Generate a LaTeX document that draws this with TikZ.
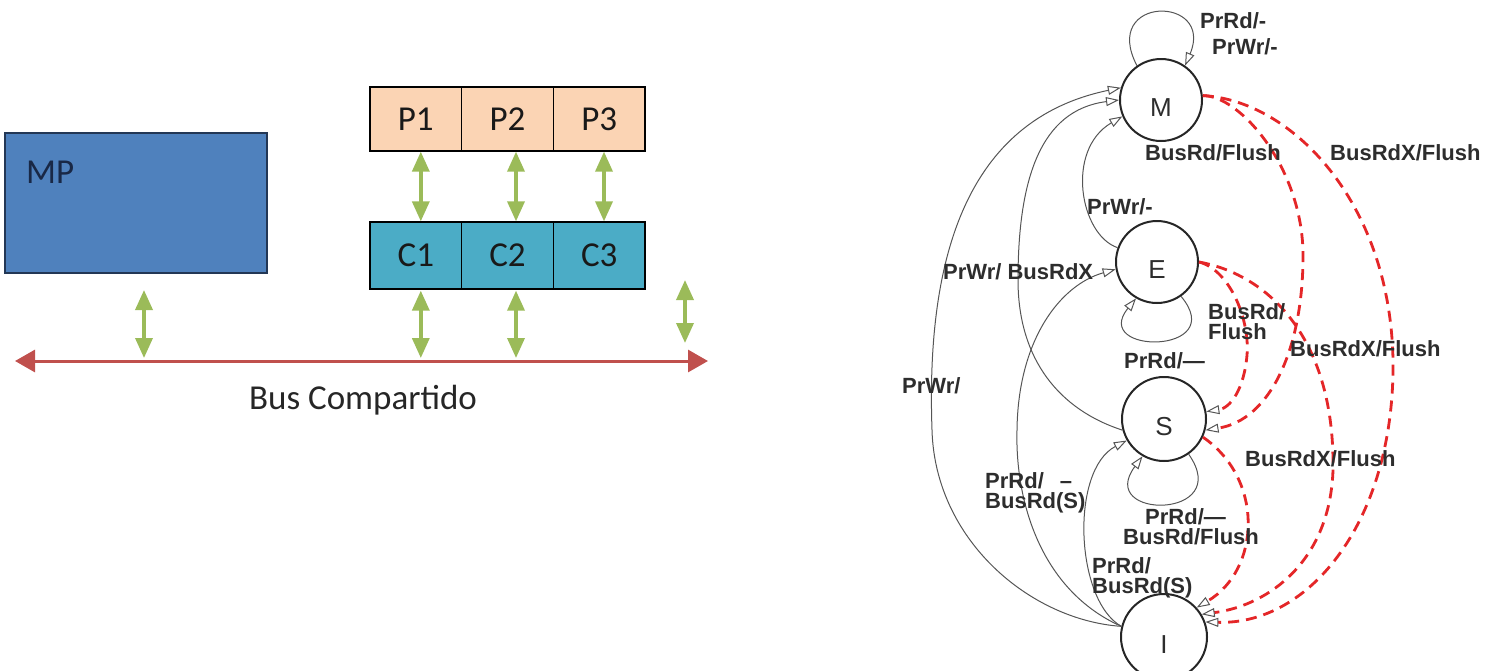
\documentclass[tikz,border=0pt]{standalone}
\usepackage{fontspec}
\setmainfont{Liberation Sans}
\newfontfamily\calibri{Carlito}
\usetikzlibrary{arrows.meta}

\definecolor{mpblue}{RGB}{79,129,189}
\definecolor{mpedge}{RGB}{35,55,85}
\definecolor{mptext}{RGB}{25,40,70}
\definecolor{peach}{RGB}{251,212,180}
\definecolor{cteal}{RGB}{75,172,198}
\definecolor{lgreen}{RGB}{155,187,89}
\definecolor{busred}{RGB}{192,80,77}
\definecolor{snoopred}{RGB}{228,38,40}
\definecolor{edgegray}{RGB}{85,85,85}
\definecolor{txtgray}{RGB}{45,45,45}

\begin{document}
\begin{tikzpicture}[x=1pt,y=-1pt,
  cell/.style={draw=black, line width=1.3pt, minimum width=91.7pt, inner sep=0,
    font=\calibri\fontsize{35}{35}\selectfont, text=black!90},
  pcell/.style={cell, fill=peach, minimum height=64pt},
  ccell/.style={cell, fill=cteal, minimum height=67pt},
  mpbox/.style={draw=mpedge, line width=1.3pt, fill=mpblue, minimum width=262pt, minimum height=140pt},
  link/.style={draw=lgreen, line width=3.5pt,
    {Triangle[length=20pt,width=17pt]}-{Triangle[length=20pt,width=17pt]}},
  busline/.style={draw=busred, line width=3pt,
    {Triangle[length=20pt,width=22pt]}-{Triangle[length=20pt,width=22pt]}},
  state/.style={circle, draw=black!85, line width=2pt, minimum size=82pt, inner sep=0,
    font=\fontsize{26}{26}\selectfont, text=txtgray, text height=32pt, text depth=0pt},
  tedge/.style={draw=edgegray, line width=1pt, -{Triangle[open,length=13pt,width=9pt]}},
  snoop/.style={draw=snoopred, line width=2.8pt, dash pattern=on 11pt off 7pt,
    -{Triangle[open,length=13pt,width=9pt,line width=1pt,color=edgegray]}},
  lbl/.style={font=\fontsize{22}{20}\selectfont\bfseries, text=txtgray, inner sep=0,
    anchor=west, align=left}
]
\useasboundingbox (0,0) rectangle (1488,670);

% ---------- shared-bus multiprocessor ----------
\node[mpbox] (MP) at (136,203) {};
\node[font=\calibri\fontsize{35}{35}\selectfont, text=mptext, anchor=west, inner sep=0] (MPlabel) at (26,172) {MP};

\node[pcell] (P1) at (415.8,119) {P1};
\node[pcell] (P2) at (507.5,119) {P2};
\node[pcell] (P3) at (599.2,119) {P3};
\node[ccell] (C1) at (415.8,255.5) {C1};
\node[ccell] (C2) at (507.5,255.5) {C2};
\node[ccell] (C3) at (599.2,255.5) {C3};

\draw[link] ([xshift=5pt]P1.south) -- ([xshift=5pt]C1.north);
\draw[link] ([xshift=8.5pt]P2.south) -- ([xshift=8.5pt]C2.north);
\draw[link] ([xshift=4.8pt]P3.south) -- ([xshift=4.8pt]C3.north);

\coordinate (busL) at (15,361);
\coordinate (busR) at (708,361);
\draw[busline] (busL) -- (busR);

\coordinate (mpTop) at (144,290);
\coordinate (mpTap) at (144,358);
\draw[link] (mpTop) -- (mpTap);
\path ([xshift=5pt]C1.south) coordinate (c1Top);
\path ([xshift=8.5pt]C2.south) coordinate (c2Top);
\draw[link] ([yshift=-1pt]c1Top) -- (c1Top |- mpTap);
\draw[link] ([yshift=-1pt]c2Top) -- (c2Top |- mpTap);
\coordinate (rTop) at (685,280);
\coordinate (rBot) at (685,343);
\draw[link] (rTop) -- (rBot);

\node[font=\calibri\fontsize{35}{35}\selectfont, text=black!85] (buslabel) at (363,400) {Bus Compartido};

% ---------- MESI state machine ----------
\node[state] (M) at (1161,100) {M};
\node[state] (E) at (1157,262) {E};
\node[state, minimum size=84pt] (S) at (1164,419) {S};
\node[state, minimum size=86pt] (I) at (1164,637) {I};

% self loops
\draw[tedge] (M.125) .. controls (1100,-5) and (1215,-5) .. (M.55);
\draw[tedge] (E.-55) .. controls (1230,355) and (1090,355) .. (E.-120);
\draw[tedge] (S.-55) .. controls (1235,520) and (1095,520) .. (S.-120);

% processor-initiated transitions
\draw[tedge] (I.166) .. controls (1030,620) and (935,540) .. (932,430)
             .. controls (926,260) and (965,120) .. (M.163);
\draw[tedge] (I.166) .. controls (1040,590) and (1015,500) .. (1017,430)
             .. controls (1018,340) and (1060,285) .. (E.190);
\draw[tedge] (I.166) .. controls (1075,600) and (1070,470) .. (S.210);
\draw[tedge] (S.195) .. controls (1060,410) and (1018,360) .. (1018,280)
             .. controls (1018,180) and (1040,110) .. (M.180);
\draw[tedge] (E.160) .. controls (1080,235) and (1065,150) .. (M.203);

% bus-initiated (snooped) transitions
\draw[snoop] (M.6) .. controls (1240,95) and (1305,170) .. (1303,260)
             .. controls (1302,350) and (1270,420) .. (S.-15);
\draw[snoop] (M.6) .. controls (1290,100) and (1390,200) .. (1393,360)
             .. controls (1395,520) and (1310,625) .. (I.20);
\draw[snoop] (E.0) .. controls (1230,270) and (1250,320) .. (1247,355)
             .. controls (1244,390) and (1230,408) .. (S.10);
\draw[snoop] (E.0) .. controls (1270,275) and (1335,340) .. (1333,470)
             .. controls (1330,560) and (1270,605) .. (I.31);
\draw[snoop] (S.-25) .. controls (1265,480) and (1260,570) .. (I.42);

% transition labels
\node[lbl] (lMloopA) at (1200,21) {PrRd/-};
\node[lbl] (lMloopB) at (1212,47) {PrWr/-};
\node[lbl] (lMS) at (1145,153) {BusRd/Flush};
\node[lbl] (lMI) at (1330,153) {BusRdX/Flush};
\node[lbl] (lEM) at (1087,207) {PrWr/-};
\node[lbl] (lSM) at (943,272) {PrWr/ BusRdX};
\node[lbl] (lIM) at (902,386) {PrWr/};
\node[lbl] (lES) at (1208,322) {BusRd/\\Flush};
\node[lbl] (lEloop) at (1124,361) {PrRd/—};
\node[lbl] (lEI) at (1290,349) {BusRdX/Flush};
\node[lbl] (lSI) at (1245,459) {BusRdX/Flush};
\node[lbl] (lIE) at (985,493) {PrRd/\hspace{16pt}–\\BusRd(S)};
\node[lbl] (lSloop) at (1123,527) {\hspace*{22pt}PrRd/—\\BusRd/Flush};
\node[lbl] (lIS) at (1092,578) {PrRd/\\BusRd(S)};
\end{tikzpicture}
\end{document}
